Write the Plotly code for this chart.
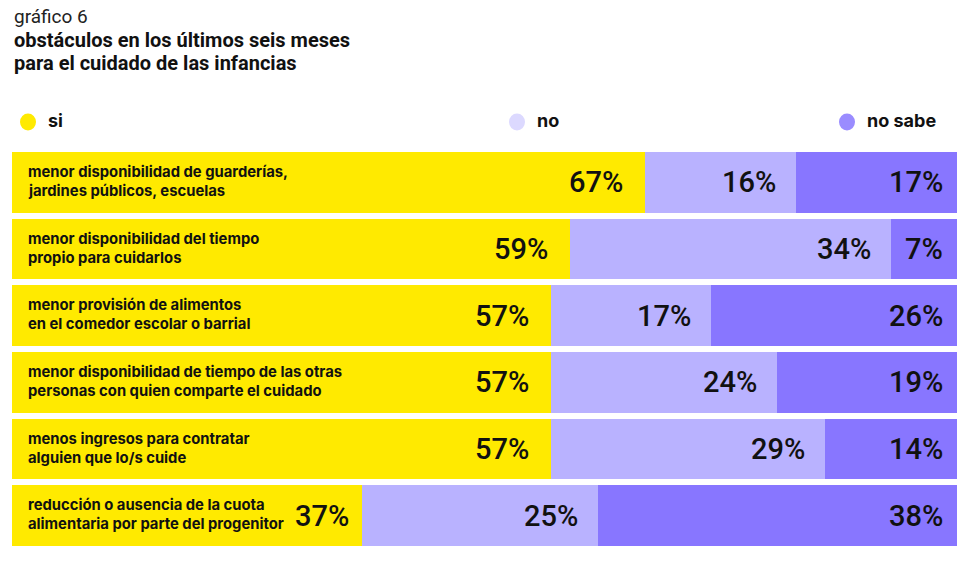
import plotly.graph_objects as go

categories = [
    "menor disponibilidad de guarderías,<br>jardines públicos, escuelas",
    "menor disponibilidad del tiempo<br>propio para cuidarlos",
    "menor provisión de alimentos<br>en el comedor escolar o barrial",
    "menor disponibilidad de tiempo de las otras<br>personas con quien comparte el cuidado",
    "menos ingresos para contratar<br>alguien que lo/s cuide",
    "reducción o ausencia de la cuota<br>alimentaria por parte del progenitor",
]
si = [67, 59, 57, 57, 57, 37]
no = [16, 34, 17, 24, 29, 25]
no_sabe = [17, 7, 26, 19, 14, 38]

series_names = ["si", "no", "no sabe"]
colors = ["#FFEA00", "#B9B2FF", "#8876FF"]
legend_colors = ["#FFEA00", "#DCD9FF", "#9A8CFF"]
pads = [-20, -18, -12]

LABEL_FONT = "Inter"
PCT_FONT = "Roboto"

# body margin removed via post_script, so page pixels == figure pixels
W, H = 978, 574
ML, MR, MT, MB = 12, 21, 149, 25
pw = W - ML - MR
ph = H - MT - MB

def px(x):  # page pixel -> paper fraction
    return (x - ML) / pw

def py(y):
    return (H - MB - y) / ph

ids = list(range(len(categories)))
fig = go.Figure()
series = [si, no, no_sabe]
for name, vals, col in zip(series_names, series, colors):
    fig.add_trace(go.Bar(
        y=ids, x=vals, orientation="h", name=name,
        marker=dict(color=col, line=dict(width=0)),
        hoverinfo="skip", showlegend=False,
    ))

annotations = []
for i in ids:
    cum = 0
    for k, vals in enumerate(series):
        cum += vals[i]
        pad = pads[k]
        if k == 0 and i == len(categories) - 1:
            pad = -11
        annotations.append(dict(
            x=cum, y=i, xref="x", yref="y", text=f"{vals[i]}%",
            xanchor="right", yanchor="middle", xshift=pad, yshift=0, showarrow=False,
            font=dict(family=PCT_FONT, size=29, color="#111111", weight=500),
        ))
    lines = categories[i].split("<br>")
    for j, line in enumerate(lines):
        annotations.append(dict(
            x=0, y=i, xref="x", yref="y", text=line, align="left",
            xanchor="left", yanchor="middle", xshift=14,
            yshift=(len(lines) - 1) / 2 * 19 - j * 19 + 1, showarrow=False,
            font=dict(family=LABEL_FONT, size=14.8, color="#111111", weight="bold"),
        ))

# titles
annotations.append(dict(x=px(12), y=py(16), xref="paper", yref="paper", text="gráfico 6",
                        showarrow=False, xanchor="left", yanchor="middle",
                        font=dict(family="Roboto", size=19, color="#222222")))
for j, t in enumerate(["obstáculos en los últimos seis meses", "para el cuidado de las infancias"]):
    annotations.append(dict(x=px(12), y=py(40 + 23 * j), xref="paper", yref="paper", text=t,
                            showarrow=False, xanchor="left", yanchor="middle", align="left",
                            font=dict(family="Roboto", size=20, color="#111111", weight="bold")))

legend_x = [28, 517, 847]
shapes = []
for name, col, lx in zip(series_names, legend_colors, legend_x):
    shapes.append(dict(type="circle", xref="paper", yref="paper",
                       x0=px(lx - 8), x1=px(lx + 8), y0=py(122 + 8.5), y1=py(122 - 8.5),
                       fillcolor=col, line=dict(width=0)))
    annotations.append(dict(x=px(lx + 18), y=py(121), xref="paper", yref="paper", text=name,
                            showarrow=False, xanchor="left", yanchor="middle",
                            font=dict(family=LABEL_FONT, size=18, color="#111111", weight="bold")))

fig.update_layout(
    width=W, height=H,
    margin=dict(l=ML, r=MR, t=MT, b=MB),
    barmode="stack", bargap=0.09,
    plot_bgcolor="white", paper_bgcolor="white",
    xaxis=dict(range=[0, 100], visible=False, fixedrange=True),
    yaxis=dict(range=[len(categories) - 0.5, -0.5], visible=False, fixedrange=True),
    annotations=annotations, shapes=shapes,
)
fig.write_html("out.html", config={"displayModeBar": False},
               post_script="document.body.style.margin='0';document.body.style.overflow='hidden';")
